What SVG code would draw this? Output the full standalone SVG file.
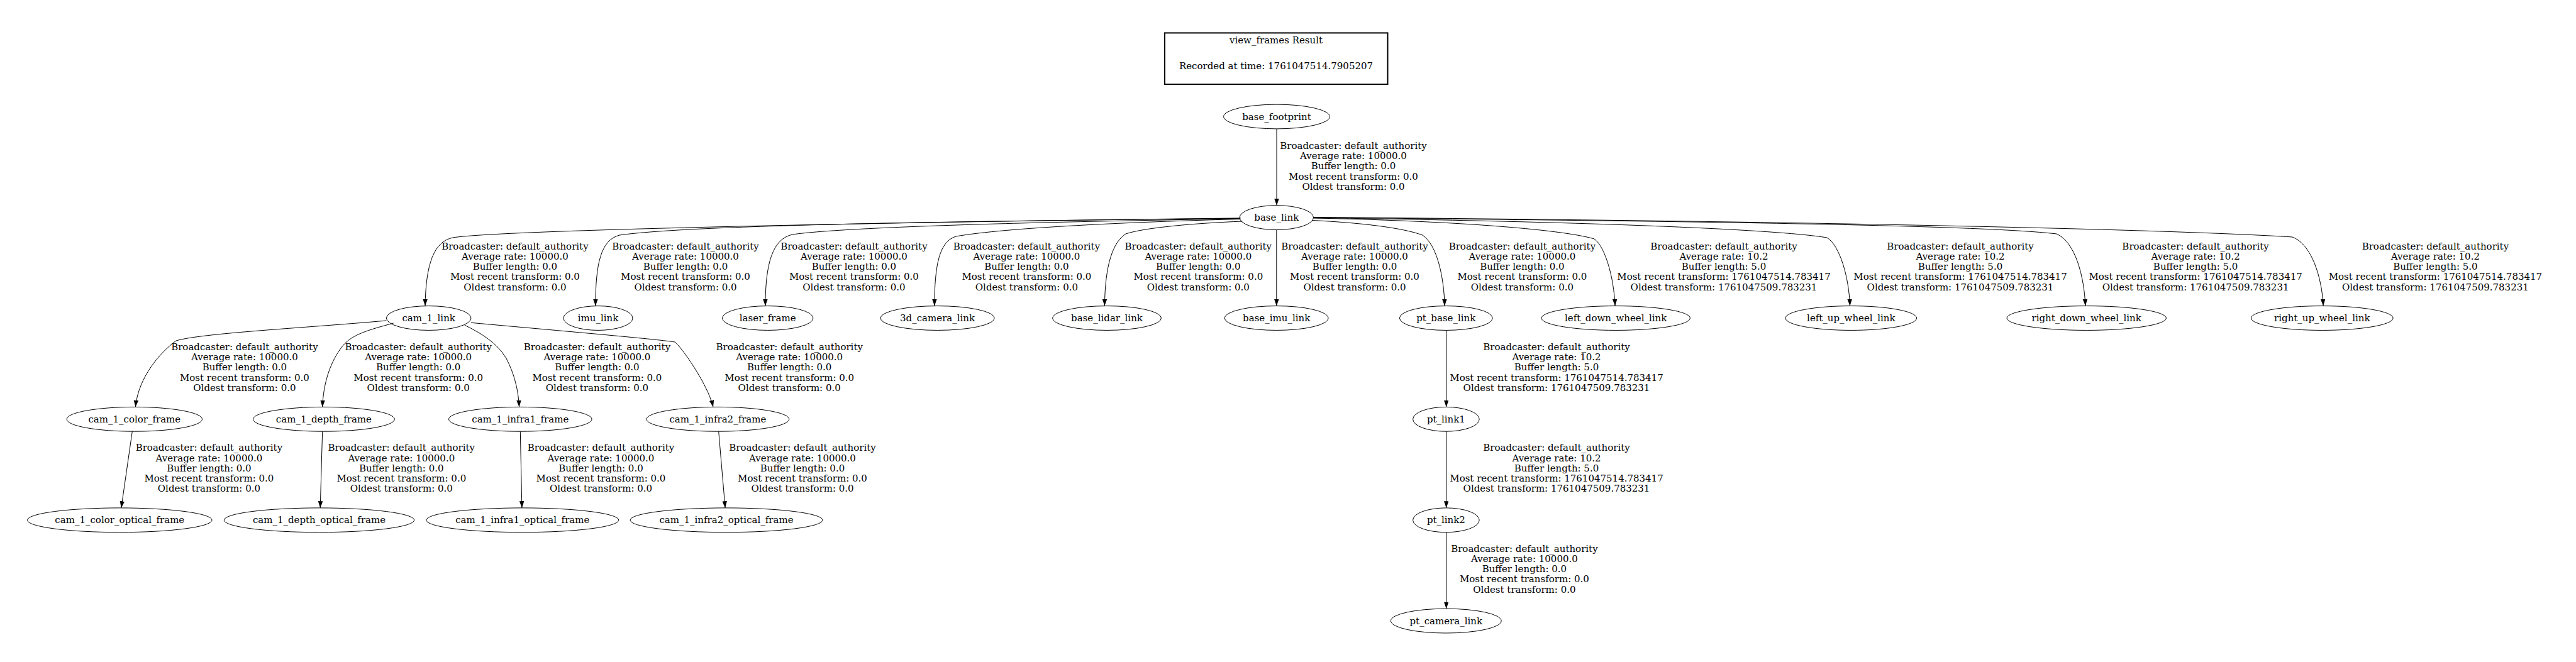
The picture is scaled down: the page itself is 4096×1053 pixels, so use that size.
<svg xmlns="http://www.w3.org/2000/svg" width="4096" height="1053" viewBox="0 0 4096 1053">
<defs>
<marker id="a" markerUnits="userSpaceOnUse" markerWidth="12" markerHeight="9" refX="10.7" refY="3.75" orient="auto"><path d="M0,0 L10.7,3.75 L0,7.5 z" fill="#000"/></marker>
<style>
text{font-family:"DejaVu Serif","Liberation Serif",serif;font-size:15px;text-anchor:middle;fill:#000}
.n ellipse{fill:none;stroke:#000;stroke-width:1}
#edges path{fill:none;stroke:#000;stroke-width:1;marker-end:url(#a)}
.t{fill:none;stroke:#000;stroke-width:2}
</style>
</defs>
<rect width="4096" height="1053" fill="#fff"/>
<g id="title"><rect class="t" x="1852" y="52.4" width="354.5" height="81.6"/><text x="2029" y="68.9">view_frames Result</text><text x="2029" y="109.5">Recorded at time: 1761047514.7905207</text></g>
<g id="edges">
<path d="M2030,204.9 L2030,326.7"/>
<path d="M1972.9,346.9 C1500,352 800,365 720,378 C690,384 677,420 676,486.6"/>
<path d="M1971.3,347.4 C1500,352 1100,358 985,374 C955,382 947,420 946.9,486.6"/>
<path d="M1971.3,348 C1700,352 1350,360 1260,373 C1228,380 1217,420 1216.9,486.6"/>
<path d="M1971.3,348.5 C1800,353 1600,362 1520,376 C1494,384 1486,420 1485.9,486.6"/>
<path d="M1975.5,352 C1900,355 1820,362 1790,372 C1770,385 1757,420 1756.4,486.6"/>
<path d="M2029.8,365.5 L2029.8,486.6"/>
<path d="M2086,350.5 C2160,354 2230,362 2262,374 C2285,390 2296,440 2297.1,486.6"/>
<path d="M2088.5,347 C2300,351 2480,364 2535,380 C2552,392 2566,440 2568.1,486.6"/>
<path d="M2088.5,346.5 C2500,352 2820,364 2905,378 C2925,390 2940,440 2941.5,486.6"/>
<path d="M2088.5,346 C2700,352 3150,358 3270,372 C3300,385 3314,440 3315.9,486.6"/>
<path d="M2088.5,345.5 C2900,352 3450,365 3645,377 C3675,388 3692,440 3694.1,486.6"/>
<path d="M614.4,510 C480,522 320,530 280,542 C255,560 220,600 215.4,647.4"/>
<path d="M625.7,514 C585,525 560,532 545,550 C525,575 514,610 512.7,647.4"/>
<path d="M738.6,517 C765,530 790,545 805,570 C818,595 824,620 825.6,647.4"/>
<path d="M749,513.3 C900,527 1040,539 1073,544 C1082,550 1125,610 1134,647.4"/>
<path d="M210.3,686.2 L192.8,807.9"/>
<path d="M512.7,686.2 L509.2,807.9"/>
<path d="M827.3,686.2 L829.9,807.9"/>
<path d="M1142.7,686.2 L1153.1,807.9"/>
<path d="M2299.7,525.4 L2299.7,647.4"/>
<path d="M2299.7,686.2 L2299.7,807.9"/>
<path d="M2299.7,846.7 L2299.7,968.2"/>
</g>
<g id="edge-labels">
<text x="2152" y="236.7">Broadcaster: default_authority<tspan x="2152" dy="16.3">Average rate: 10000.0</tspan><tspan x="2152" dy="16.3">Buffer length: 0.0</tspan><tspan x="2152" dy="16.3">Most recent transform: 0.0</tspan><tspan x="2152" dy="16.3">Oldest transform: 0.0</tspan></text>
<text x="818.9" y="396.5">Broadcaster: default_authority<tspan x="818.9" dy="16.3">Average rate: 10000.0</tspan><tspan x="818.9" dy="16.3">Buffer length: 0.0</tspan><tspan x="818.9" dy="16.3">Most recent transform: 0.0</tspan><tspan x="818.9" dy="16.3">Oldest transform: 0.0</tspan></text>
<text x="1090" y="396.5">Broadcaster: default_authority<tspan x="1090" dy="16.3">Average rate: 10000.0</tspan><tspan x="1090" dy="16.3">Buffer length: 0.0</tspan><tspan x="1090" dy="16.3">Most recent transform: 0.0</tspan><tspan x="1090" dy="16.3">Oldest transform: 0.0</tspan></text>
<text x="1357.9" y="396.5">Broadcaster: default_authority<tspan x="1357.9" dy="16.3">Average rate: 10000.0</tspan><tspan x="1357.9" dy="16.3">Buffer length: 0.0</tspan><tspan x="1357.9" dy="16.3">Most recent transform: 0.0</tspan><tspan x="1357.9" dy="16.3">Oldest transform: 0.0</tspan></text>
<text x="1632.4" y="396.5">Broadcaster: default_authority<tspan x="1632.4" dy="16.3">Average rate: 10000.0</tspan><tspan x="1632.4" dy="16.3">Buffer length: 0.0</tspan><tspan x="1632.4" dy="16.3">Most recent transform: 0.0</tspan><tspan x="1632.4" dy="16.3">Oldest transform: 0.0</tspan></text>
<text x="1905.3" y="396.5">Broadcaster: default_authority<tspan x="1905.3" dy="16.3">Average rate: 10000.0</tspan><tspan x="1905.3" dy="16.3">Buffer length: 0.0</tspan><tspan x="1905.3" dy="16.3">Most recent transform: 0.0</tspan><tspan x="1905.3" dy="16.3">Oldest transform: 0.0</tspan></text>
<text x="2154" y="396.5">Broadcaster: default_authority<tspan x="2154" dy="16.3">Average rate: 10000.0</tspan><tspan x="2154" dy="16.3">Buffer length: 0.0</tspan><tspan x="2154" dy="16.3">Most recent transform: 0.0</tspan><tspan x="2154" dy="16.3">Oldest transform: 0.0</tspan></text>
<text x="2420.4" y="396.5">Broadcaster: default_authority<tspan x="2420.4" dy="16.3">Average rate: 10000.0</tspan><tspan x="2420.4" dy="16.3">Buffer length: 0.0</tspan><tspan x="2420.4" dy="16.3">Most recent transform: 0.0</tspan><tspan x="2420.4" dy="16.3">Oldest transform: 0.0</tspan></text>
<text x="2741" y="396.5">Broadcaster: default_authority<tspan x="2741" dy="16.3">Average rate: 10.2</tspan><tspan x="2741" dy="16.3">Buffer length: 5.0</tspan><tspan x="2741" dy="16.3">Most recent transform: 1761047514.783417</tspan><tspan x="2741" dy="16.3">Oldest transform: 1761047509.783231</tspan></text>
<text x="3117" y="396.5">Broadcaster: default_authority<tspan x="3117" dy="16.3">Average rate: 10.2</tspan><tspan x="3117" dy="16.3">Buffer length: 5.0</tspan><tspan x="3117" dy="16.3">Most recent transform: 1761047514.783417</tspan><tspan x="3117" dy="16.3">Oldest transform: 1761047509.783231</tspan></text>
<text x="3491.1" y="396.5">Broadcaster: default_authority<tspan x="3491.1" dy="16.3">Average rate: 10.2</tspan><tspan x="3491.1" dy="16.3">Buffer length: 5.0</tspan><tspan x="3491.1" dy="16.3">Most recent transform: 1761047514.783417</tspan><tspan x="3491.1" dy="16.3">Oldest transform: 1761047509.783231</tspan></text>
<text x="3872.4" y="396.5">Broadcaster: default_authority<tspan x="3872.4" dy="16.3">Average rate: 10.2</tspan><tspan x="3872.4" dy="16.3">Buffer length: 5.0</tspan><tspan x="3872.4" dy="16.3">Most recent transform: 1761047514.783417</tspan><tspan x="3872.4" dy="16.3">Oldest transform: 1761047509.783231</tspan></text>
<text x="388.9" y="556.7">Broadcaster: default_authority<tspan x="388.9" dy="16.3">Average rate: 10000.0</tspan><tspan x="388.9" dy="16.3">Buffer length: 0.0</tspan><tspan x="388.9" dy="16.3">Most recent transform: 0.0</tspan><tspan x="388.9" dy="16.3">Oldest transform: 0.0</tspan></text>
<text x="665.2" y="556.7">Broadcaster: default_authority<tspan x="665.2" dy="16.3">Average rate: 10000.0</tspan><tspan x="665.2" dy="16.3">Buffer length: 0.0</tspan><tspan x="665.2" dy="16.3">Most recent transform: 0.0</tspan><tspan x="665.2" dy="16.3">Oldest transform: 0.0</tspan></text>
<text x="949.4" y="556.7">Broadcaster: default_authority<tspan x="949.4" dy="16.3">Average rate: 10000.0</tspan><tspan x="949.4" dy="16.3">Buffer length: 0.0</tspan><tspan x="949.4" dy="16.3">Most recent transform: 0.0</tspan><tspan x="949.4" dy="16.3">Oldest transform: 0.0</tspan></text>
<text x="1255.2" y="556.7">Broadcaster: default_authority<tspan x="1255.2" dy="16.3">Average rate: 10000.0</tspan><tspan x="1255.2" dy="16.3">Buffer length: 0.0</tspan><tspan x="1255.2" dy="16.3">Most recent transform: 0.0</tspan><tspan x="1255.2" dy="16.3">Oldest transform: 0.0</tspan></text>
<text x="2475" y="556.7">Broadcaster: default_authority<tspan x="2475" dy="16.3">Average rate: 10.2</tspan><tspan x="2475" dy="16.3">Buffer length: 5.0</tspan><tspan x="2475" dy="16.3">Most recent transform: 1761047514.783417</tspan><tspan x="2475" dy="16.3">Oldest transform: 1761047509.783231</tspan></text>
<text x="332.4" y="717.2">Broadcaster: default_authority<tspan x="332.4" dy="16.3">Average rate: 10000.0</tspan><tspan x="332.4" dy="16.3">Buffer length: 0.0</tspan><tspan x="332.4" dy="16.3">Most recent transform: 0.0</tspan><tspan x="332.4" dy="16.3">Oldest transform: 0.0</tspan></text>
<text x="638.3" y="717.2">Broadcaster: default_authority<tspan x="638.3" dy="16.3">Average rate: 10000.0</tspan><tspan x="638.3" dy="16.3">Buffer length: 0.0</tspan><tspan x="638.3" dy="16.3">Most recent transform: 0.0</tspan><tspan x="638.3" dy="16.3">Oldest transform: 0.0</tspan></text>
<text x="955.5" y="717.2">Broadcaster: default_authority<tspan x="955.5" dy="16.3">Average rate: 10000.0</tspan><tspan x="955.5" dy="16.3">Buffer length: 0.0</tspan><tspan x="955.5" dy="16.3">Most recent transform: 0.0</tspan><tspan x="955.5" dy="16.3">Oldest transform: 0.0</tspan></text>
<text x="1276" y="717.2">Broadcaster: default_authority<tspan x="1276" dy="16.3">Average rate: 10000.0</tspan><tspan x="1276" dy="16.3">Buffer length: 0.0</tspan><tspan x="1276" dy="16.3">Most recent transform: 0.0</tspan><tspan x="1276" dy="16.3">Oldest transform: 0.0</tspan></text>
<text x="2475" y="717.2">Broadcaster: default_authority<tspan x="2475" dy="16.3">Average rate: 10.2</tspan><tspan x="2475" dy="16.3">Buffer length: 5.0</tspan><tspan x="2475" dy="16.3">Most recent transform: 1761047514.783417</tspan><tspan x="2475" dy="16.3">Oldest transform: 1761047509.783231</tspan></text>
<text x="2423.9" y="877.5">Broadcaster: default_authority<tspan x="2423.9" dy="16.3">Average rate: 10000.0</tspan><tspan x="2423.9" dy="16.3">Buffer length: 0.0</tspan><tspan x="2423.9" dy="16.3">Most recent transform: 0.0</tspan><tspan x="2423.9" dy="16.3">Oldest transform: 0.0</tspan></text>
</g>
<g id="base_footprint" class="n"><ellipse cx="2030" cy="185.5" rx="84.4" ry="19.4"/><text x="2030" y="190.5">base_footprint</text></g>
<g id="base_link" class="n"><ellipse cx="2029.8" cy="346.1" rx="58.7" ry="19.4"/><text x="2029.8" y="351.1">base_link</text></g>
<g id="cam_1_link" class="n"><ellipse cx="681.7" cy="506" rx="67.3" ry="19.4"/><text x="681.7" y="511">cam_1_link</text></g>
<g id="imu_link" class="n"><ellipse cx="951" cy="506" rx="55" ry="19.4"/><text x="951" y="511">imu_link</text></g>
<g id="laser_frame" class="n"><ellipse cx="1220.7" cy="506" rx="72.2" ry="19.4"/><text x="1220.7" y="511">laser_frame</text></g>
<g id="3d_camera_link" class="n"><ellipse cx="1490.6" cy="506" rx="90.4" ry="19.4"/><text x="1490.6" y="511">3d_camera_link</text></g>
<g id="base_lidar_link" class="n"><ellipse cx="1760" cy="506" rx="86.3" ry="19.4"/><text x="1760" y="511">base_lidar_link</text></g>
<g id="base_imu_link" class="n"><ellipse cx="2029.7" cy="506" rx="82.3" ry="19.4"/><text x="2029.7" y="511">base_imu_link</text></g>
<g id="pt_base_link" class="n"><ellipse cx="2299.3" cy="506" rx="73.9" ry="19.4"/><text x="2299.3" y="511">pt_base_link</text></g>
<g id="left_down_wheel_link" class="n"><ellipse cx="2569.2" cy="506" rx="118.2" ry="19.4"/><text x="2569.2" y="511">left_down_wheel_link</text></g>
<g id="left_up_wheel_link" class="n"><ellipse cx="2943.3" cy="506" rx="104.3" ry="19.4"/><text x="2943.3" y="511">left_up_wheel_link</text></g>
<g id="right_down_wheel_link" class="n"><ellipse cx="3317.7" cy="506" rx="126.7" ry="19.4"/><text x="3317.7" y="511">right_down_wheel_link</text></g>
<g id="right_up_wheel_link" class="n"><ellipse cx="3692.3" cy="506" rx="112.8" ry="19.4"/><text x="3692.3" y="511">right_up_wheel_link</text></g>
<g id="cam_1_color_frame" class="n"><ellipse cx="213.8" cy="666.8" rx="107.7" ry="19.4"/><text x="213.8" y="671.8">cam_1_color_frame</text></g>
<g id="cam_1_depth_frame" class="n"><ellipse cx="514.9" cy="666.8" rx="112.5" ry="19.4"/><text x="514.9" y="671.8">cam_1_depth_frame</text></g>
<g id="cam_1_infra1_frame" class="n"><ellipse cx="827.3" cy="666.8" rx="113.8" ry="19.4"/><text x="827.3" y="671.8">cam_1_infra1_frame</text></g>
<g id="cam_1_infra2_frame" class="n"><ellipse cx="1141.4" cy="666.8" rx="113.4" ry="19.4"/><text x="1141.4" y="671.8">cam_1_infra2_frame</text></g>
<g id="pt_link1" class="n"><ellipse cx="2299.4" cy="666.8" rx="52.8" ry="19.4"/><text x="2299.4" y="671.8">pt_link1</text></g>
<g id="cam_1_color_optical_frame" class="n"><ellipse cx="190.3" cy="827.3" rx="146.8" ry="19.4"/><text x="190.3" y="832.3">cam_1_color_optical_frame</text></g>
<g id="cam_1_depth_optical_frame" class="n"><ellipse cx="507.5" cy="827.3" rx="151.2" ry="19.4"/><text x="507.5" y="832.3">cam_1_depth_optical_frame</text></g>
<g id="cam_1_infra1_optical_frame" class="n"><ellipse cx="830.8" cy="827.3" rx="153" ry="19.4"/><text x="830.8" y="832.3">cam_1_infra1_optical_frame</text></g>
<g id="cam_1_infra2_optical_frame" class="n"><ellipse cx="1155" cy="827.3" rx="153" ry="19.4"/><text x="1155" y="832.3">cam_1_infra2_optical_frame</text></g>
<g id="pt_link2" class="n"><ellipse cx="2299.4" cy="827.3" rx="52.8" ry="19.4"/><text x="2299.4" y="832.3">pt_link2</text></g>
<g id="pt_camera_link" class="n"><ellipse cx="2299.3" cy="987.6" rx="87.9" ry="19.4"/><text x="2299.3" y="992.6">pt_camera_link</text></g>
</svg>
